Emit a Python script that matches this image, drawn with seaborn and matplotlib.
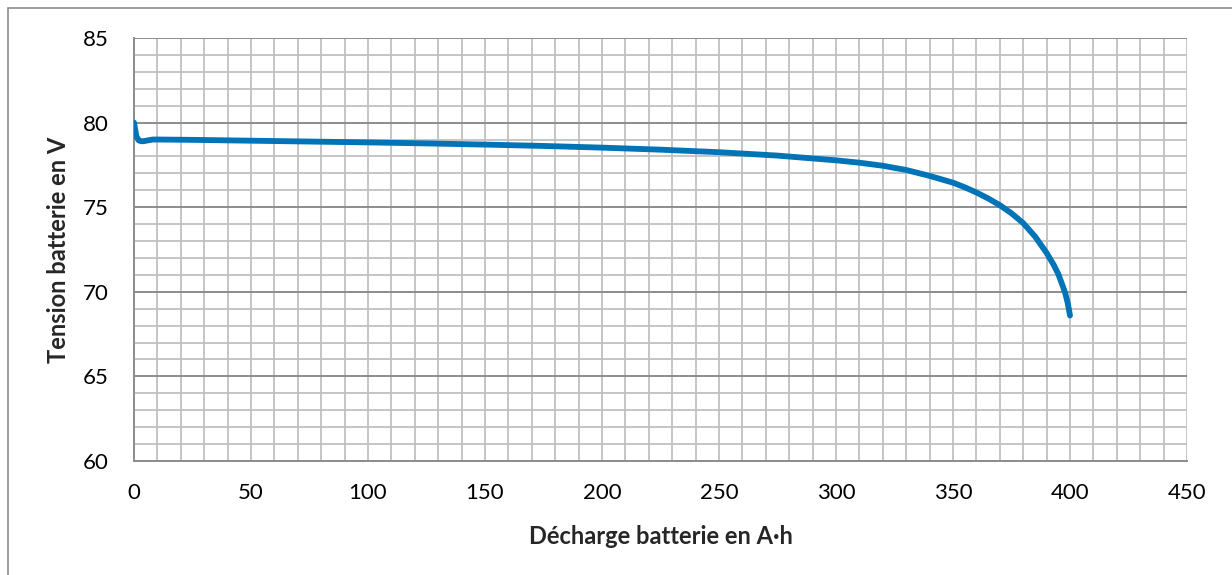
import numpy as np
import pandas as pd
import seaborn as sns
import matplotlib
matplotlib.use("Agg")
import matplotlib.pyplot as plt
from matplotlib.patches import Rectangle
from matplotlib.ticker import MultipleLocator

# Discharge curve
decharge_ah = [0, 0.5, 1, 2, 3, 4, 6, 8, 10, 25, 50, 75, 100, 125, 150, 175,
               200, 225, 250, 275, 300, 310, 320, 330, 340, 350, 355, 360,
               365, 370, 375, 380, 385, 390, 393, 395, 397, 398, 399, 400]
tension_v = [80.0, 79.6, 79.2, 78.95, 78.9, 78.9, 78.95, 79.0, 79.0, 78.98,
             78.93, 78.88, 78.83, 78.77, 78.7, 78.62, 78.52, 78.4, 78.25,
             78.05, 77.77, 77.63, 77.45, 77.2, 76.85, 76.45, 76.18, 75.87,
             75.52, 75.12, 74.64, 74.06, 73.28, 72.3, 71.6, 71.05, 70.3, 69.9,
             69.35, 68.6]

x_ticks = [0, 50, 100, 150, 200, 250, 300, 350, 400, 450]
y_ticks = [60, 65, 70, 75, 80, 85]

df = pd.DataFrame({"x": decharge_ah, "y": tension_v})

sns.set_style("white")
plt.rcParams['font.family'] = ['Lato', 'DejaVu Sans']

fig = plt.figure(figsize=(12.32, 5.75), dpi=100)
ax = fig.add_axes([134 / 1232, 1 - 461 / 575, (1187 - 134) / 1232, (461 - 38) / 575])

minor_col = '#c0c0c0'
major_col = '#8c8c8c'

# grid: vertical every 10, horizontal every 1 with darker majors
ax.set_xlim(0, 450)
ax.set_ylim(60, 85)
ax.xaxis.set_major_locator(MultipleLocator(50))
ax.xaxis.set_minor_locator(MultipleLocator(10))
ax.yaxis.set_major_locator(MultipleLocator(5))
ax.yaxis.set_minor_locator(MultipleLocator(1))
ax.grid(which='minor', axis='both', color=minor_col, lw=1.3)
ax.grid(which='major', axis='x', color=minor_col, lw=1.3)
ax.grid(which='major', axis='y', color=major_col, lw=1.4)
ax.set_axisbelow(True)

sns.lineplot(data=df, x="x", y="y", ax=ax, color='#0074b7', lw=4.2,
             solid_capstyle='round', solid_joinstyle='round', zorder=5)

ax.set_xticks(x_ticks)
ax.set_yticks(y_ticks)
ax.tick_params(which='major', direction='out', length=6.5, width=1.2,
               color=major_col, labelsize=16, labelcolor='black')
ax.tick_params(axis='x', pad=9)
ax.tick_params(axis='y', pad=12)
ax.tick_params(which='minor', length=0)

for side in ['top', 'right']:
    ax.spines[side].set_visible(False)
for side in ['left', 'bottom']:
    ax.spines[side].set_color(major_col)
    ax.spines[side].set_linewidth(1.4)

ax.set_xlabel("Décharge batterie en A·h", fontsize=17, fontweight='bold')
ax.set_ylabel("Tension batterie en V", fontsize=17, fontweight='bold')
ax.xaxis.label.set_va('center')
ax.yaxis.label.set_va('center')
ax.xaxis.set_label_coords(0.5, (461 - 537) / 423)
ax.yaxis.set_label_coords((58 - 134) / 1053, 0.5)

# outer chart frame (cut off at right and bottom)
fig.add_artist(Rectangle((8 / 1232, -0.1), 1.5, (575 - 8) / 575 + 0.1,
                         transform=fig.transFigure, fill=False,
                         ec='#8c8c8c', lw=1.2))

fig.savefig("out.png", dpi=100)
